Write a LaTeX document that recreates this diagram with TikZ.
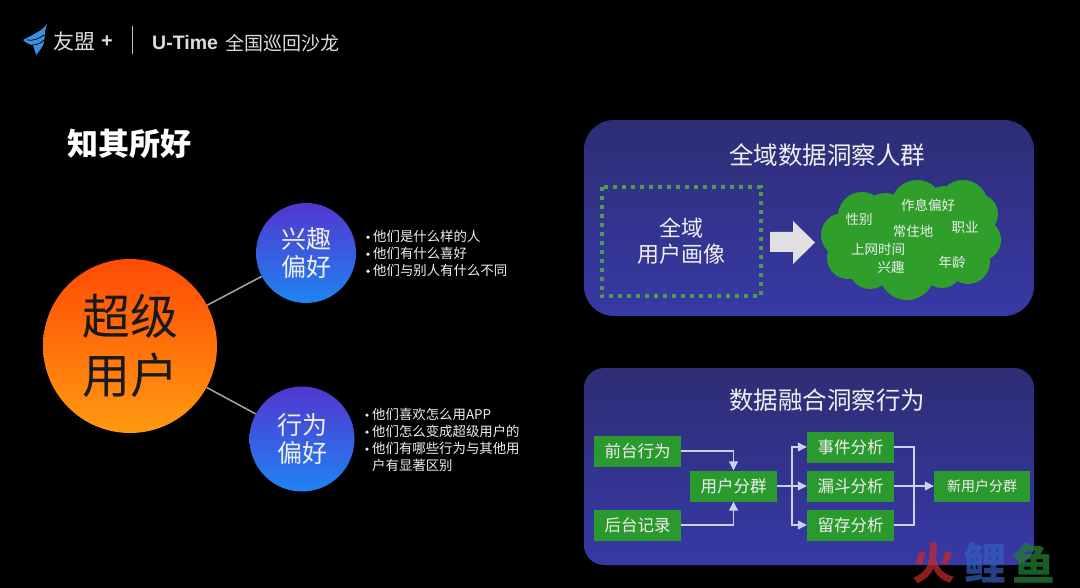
\documentclass[tikz,border=0pt]{standalone}
\usepackage{fontspec}
\setmainfont{Noto Sans CJK SC}
\newfontfamily\latinbold{Liberation Sans}
\usetikzlibrary{arrows.meta}
\definecolor{txt}{HTML}{EFEFEF}
\definecolor{hdr}{HTML}{DDDDDD}
\definecolor{panelT}{HTML}{2D2E74}
\definecolor{panelB}{HTML}{3739A6}
\definecolor{boxg}{HTML}{2B9A2E}
\definecolor{cloudg}{HTML}{2F9E2B}
\definecolor{conn}{HTML}{CFCFF2}
\definecolor{ballT}{HTML}{5236CF}
\definecolor{ballB}{HTML}{1F84F2}
\definecolor{dotg}{HTML}{4F9B55}
\definecolor{suT}{HTML}{FF4A05}
\definecolor{suB}{HTML}{FF9A10}
\definecolor{birdc}{HTML}{3A8FE0}
\newcommand{\fs}[1]{\fontsize{#1}{#1}\selectfont}
\newcommand{\bl}{\makebox[7pt][l]{\raisebox{2.5pt}{\tikz\fill[txt] (0,0) circle (1.8pt);}}}
\newcommand{\lowr}[1]{\raisebox{-2pt}{#1}}
\tikzset{
  x=1pt,y=-1pt,
  label text/.style={text=txt,inner sep=0pt,align=center},
  head text/.style={text=hdr,inner sep=0pt,anchor=west},
  panel/.style={minimum width=450pt,minimum height=196pt,inner sep=0pt,top color=panelT,bottom color=panelB,draw=none},
  flowbox/.style={fill=boxg,text=txt,inner sep=0pt,minimum width=87pt,minimum height=31pt,font={\fs{16.5}}},
  smallball/.style={circle,inner sep=0pt,text=txt,align=center,top color=ballT,bottom color=ballB,font={\fs{25}\baselineskip=28pt}},
  tag/.style={text=txt,inner sep=0pt,font={\fs{13.5}}},
  bullets/.style={text=txt,inner sep=0pt,align=left,anchor=north west,font={\fs{13.4}\baselineskip=17pt}},
  flow/.style={draw=conn,line width=1.1pt},
  flowarrow/.style={flow,-{Triangle[width=9pt,length=9pt]}},
  spoke/.style={draw=black!35!white,line width=1.5pt},
  wmark/.style={inner sep=0pt,font={\fs{43}\bfseries}}
}
\begin{document}
\begin{tikzpicture}
\useasboundingbox (0,0) rectangle (1080,588);
\fill[black] (0,0) rectangle (1080,588);

% header
\fill[birdc] (47,24) .. controls (44,28) and (40,31) .. (36,33) .. controls (31,36) and (27,38) .. (23,40) .. controls (26,43) and (30,45) .. (33,45) .. controls (34,48) and (35,51) .. (36,55) .. controls (40,50) and (43,47) .. (44,42) .. controls (45,37) and (44,32) .. (47,24) -- cycle;
\draw[black,line width=.7pt] (27,40) .. controls (33,41) and (39,39) .. (44,35);
\draw[black,line width=.7pt] (32,45) .. controls (37,45) and (41,43) .. (44,40);
\node[head text,font={\fs{21}}] (brand) at (53,42) {友盟};
\node[head text,font={\latinbold\bfseries\fs{20}}] (plus) at (101,42) {+};
\draw[draw=black!25!white,line width=1pt] (132,26) -- (132,54);
\node[head text,font={\latinbold\bfseries\fs{19.5}}] (utime) at (152,43) {U-Time};
\node[head text,font={\fs{19}}] (tour) at (225,43) {全国巡回沙龙};

% left part
\node[label text,anchor=west,font={\fs{31}\bfseries},text=white] (headline) at (67,144) {知其所好};
\node[smallball,minimum size=100pt] (b1) at (306,253) {\lowr{兴趣}\\\lowr{偏好}};
\node[smallball,minimum size=105pt] (b2) at (302,439) {行为\\偏好};
\node[circle,inner sep=0pt,minimum size=174pt,top color=suT,bottom color=suB,text=black!90,align=center,font={\fs{48}\baselineskip=58pt}] (su) at (130,346) {\raisebox{1pt}{超级}\\用户};
\draw[spoke] (su) -- (b1);
\draw[spoke] (su) -- (b2);
\node[bullets] (l1) at (366,230) {\bl 他们是什么样的人\\\bl 他们有什么喜好\\\bl 他们与别人有什么不同};
\node[bullets] (l2) at (365,408) {\bl 他们喜欢怎么用APP\\\bl 他们怎么变成超级用户的\\\bl 他们有哪些行为与其他用\\\hspace*{7pt}户有显著区别};

% top panel
\node[panel,rounded corners=30pt] (p1) at (809,218) {};
\node[label text,font={\fs{24.5}}] (p1t) at (827,155) {全域数据洞察人群};
\node[minimum width=159pt,minimum height=109pt,inner sep=0pt,label text,font={\fs{22}\baselineskip=26pt}] (profile) at (681.5,241.5) {全域\\用户画像};
\draw[draw=dotg,line width=4pt,dash pattern=on 4pt off 5pt] (profile.north west) rectangle (profile.south east);
\fill[black!12!white] (770,232) -- (793,232) -- (793,221) -- (815,242.5) -- (793,264) -- (793,252) -- (770,252) -- cycle;
\fill[cloudg] (912,240) ellipse (72 and 46)
  (862,216) circle (24) (885,215) circle (22) (917,206) circle (26) (945,208) circle (22) (963,205) circle (25)
  (978,214) circle (20) (980,240) circle (21) (968,262) circle (22) (942,268) circle (20) (907,272) circle (28)
  (870,268) circle (21) (848,258) circle (21) (843,235) circle (22);
\node[tag] (c1) at (859,219) {性别};
\node[tag] (c2) at (928,205) {作息偏好};
\node[tag] (c3) at (913,231) {常住地};
\node[tag] (c4) at (965,227) {职业};
\node[tag] (c5) at (878,249) {上网时间};
\node[tag] (c6) at (891,267) {兴趣};
\node[tag] (c7) at (952,262) {年龄};

% bottom panel
\node[panel,rounded corners=20pt,minimum height=197pt] (p2) at (809,466.5) {};
\node[label text,font={\fs{24.5}}] (p2t) at (827,400) {数据融合洞察行为};
\node[flowbox] (f1) at (637.5,451) {前台行为};
\node[flowbox] (f2) at (637.5,525) {后台记录};
\node[flowbox] (ug) at (733.5,486) {用户分群};
\node[flowbox] (e1) at (850.5,447) {事件分析};
\node[flowbox] (e2) at (850.5,486) {漏斗分析};
\node[flowbox] (e3) at (850.5,525) {留存分析};
\node[flowbox,minimum width=96pt,font={\fs{14}}] (nu) at (982,486) {新用户分群};
\coordinate (hubL) at (792,486);
\coordinate (hubR) at (914,486);
\draw[flowarrow] (f1.east) -| (ug.north);
\draw[flowarrow] (f2.east) -| (ug.south);
\draw[flowarrow] (ug.east) -- (e2.west);
\draw[flowarrow] (hubL) |- (e1.west);
\draw[flowarrow] (hubL) |- (e3.west);
\draw[flow] (e1.east) -| (hubR);
\draw[flow] (e3.east) -| (hubR);
\draw[flowarrow] (e2.east) -- (nu.west);

% watermark
\node[wmark,text={rgb,255:red,205;green,40;blue,40},text opacity=.7] (w1) at (934,563) {火};
\node[wmark,text={rgb,255:red,50;green,95;blue,190},text opacity=.7] (w2) at (985,563) {鲤};
\node[wmark,text={rgb,255:red,35;green,125;blue,50},text opacity=.75] (w3) at (1034,563) {鱼};
\end{tikzpicture}
\end{document}
